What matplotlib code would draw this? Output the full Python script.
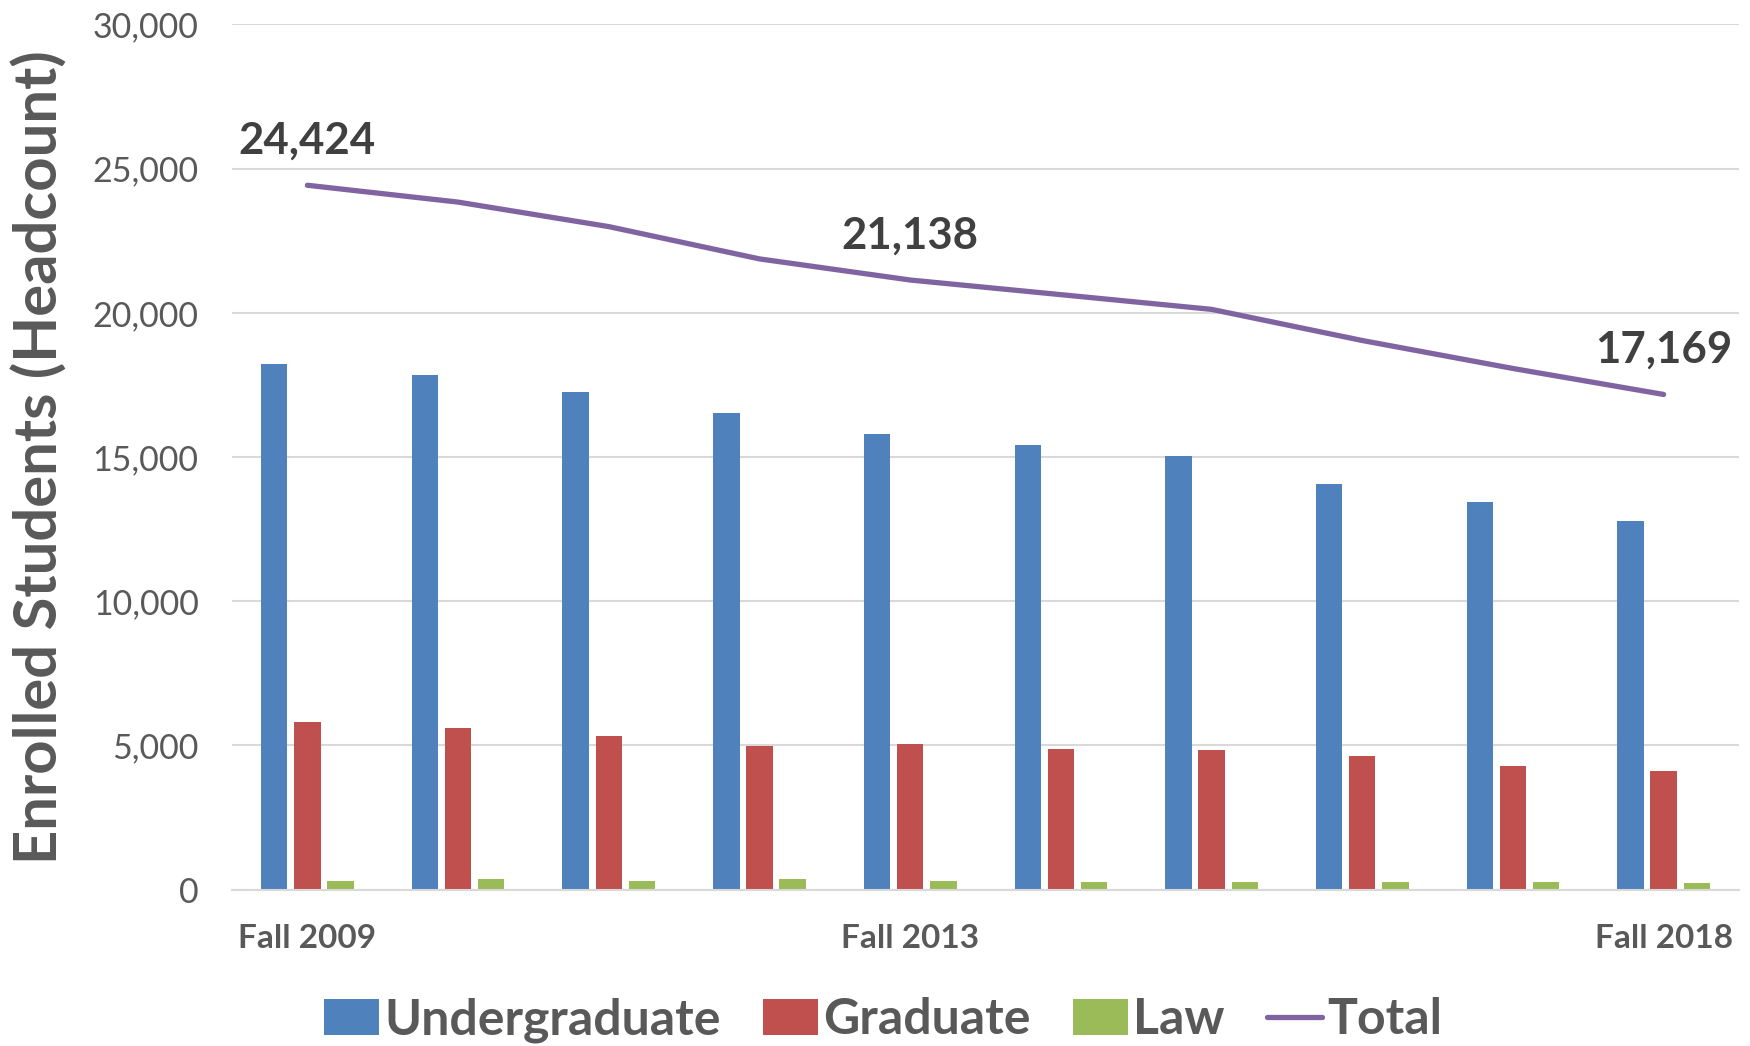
import numpy as np
import matplotlib.pyplot as plt
from matplotlib.ticker import FuncFormatter, MultipleLocator

plt.rcParams["font.family"] = ["Lato", "DejaVu Sans"]

# enrollment headcount, fall 2009 .. fall 2018
terms = ["Fall 2009", "", "", "", "Fall 2013", "", "", "", "", "Fall 2018"]
undergraduate = [18230, 17840, 17260, 16530, 15790, 15400, 15020, 14050, 13430, 12770]
graduate = [5810, 5610, 5340, 4990, 5030, 4880, 4840, 4640, 4300, 4100]
law = [310, 350, 310, 350, 300, 260, 250, 250, 250, 240]
total = [24424, 23840, 22990, 21870, 21138, 20630, 20120, 19040, 18070, 17169]
labeled_points = [0, 4, 9]

BLUE = "#4F81BD"
RED = "#C0504D"
GREEN = "#9BBB59"
PURPLE = "#8064A2"
GRID = "#D9D9D9"
TEXT = "#595959"

fig = plt.figure(figsize=(17.5, 10.46), dpi=100)
ax = fig.add_axes([0.1326, 0.1496, 0.9937 - 0.1326, 0.9766 - 0.1496])

x = np.arange(len(terms))
w = 0.175
off = 0.22
ax.bar(x - off, undergraduate, width=w, color=BLUE, label="Undergraduate", zorder=2)
ax.bar(x, graduate, width=w, color=RED, label="Graduate", zorder=2)
ax.bar(x + off, law, width=w, color=GREEN, label="Law", zorder=2)
ax.plot(x, total, color=PURPLE, linewidth=3.8, solid_capstyle="round",
        solid_joinstyle="round", label="Total", zorder=3)

for i in labeled_points:
    ax.annotate(f"{total[i]:,}", (x[i], total[i]), xytext=(0, 32),
                textcoords="offset points", ha="center", va="center",
                fontsize=31.5, fontweight="bold", color="#404040")

ax.set_xlim(-0.5, len(terms) - 0.5)
ax.set_ylim(0, 30000)
ax.yaxis.set_major_locator(MultipleLocator(5000))
ax.yaxis.set_major_formatter(FuncFormatter(lambda v, p: f"{int(v):,}"))
ax.grid(axis="y", color=GRID, linewidth=1.5, zorder=0)
ax.set_axisbelow(True)

ax.set_xticks(x)
ax.set_xticklabels(terms, fontsize=24, fontweight="bold", color=TEXT)
ax.tick_params(axis="both", length=0)
ax.tick_params(axis="y", labelsize=24.5, labelcolor=TEXT, pad=24)
ax.tick_params(axis="x", pad=25)

for side in ["top", "right", "left"]:
    ax.spines[side].set_visible(False)
ax.spines["bottom"].set_color(GRID)
ax.spines["bottom"].set_linewidth(1.5)

ax.set_ylabel("Enrolled Students (Headcount)", fontsize=43, fontweight="bold",
              color=TEXT, labelpad=18)

handles, labels = ax.get_legend_handles_labels()
order = [1, 2, 3, 0]
fig.legend([handles[i] for i in order], [labels[i] for i in order],
           loc="center", bbox_to_anchor=(0.5046, 1 - 1020 / 1046), ncol=4,
           frameon=False, handlelength=1.1, handleheight=0.72,
           handletextpad=0.1, columnspacing=0.85,
           prop={"weight": "bold", "size": 36})
for t in fig.legends[0].get_texts():
    t.set_color(TEXT)

fig.savefig("out.png", dpi=100)
